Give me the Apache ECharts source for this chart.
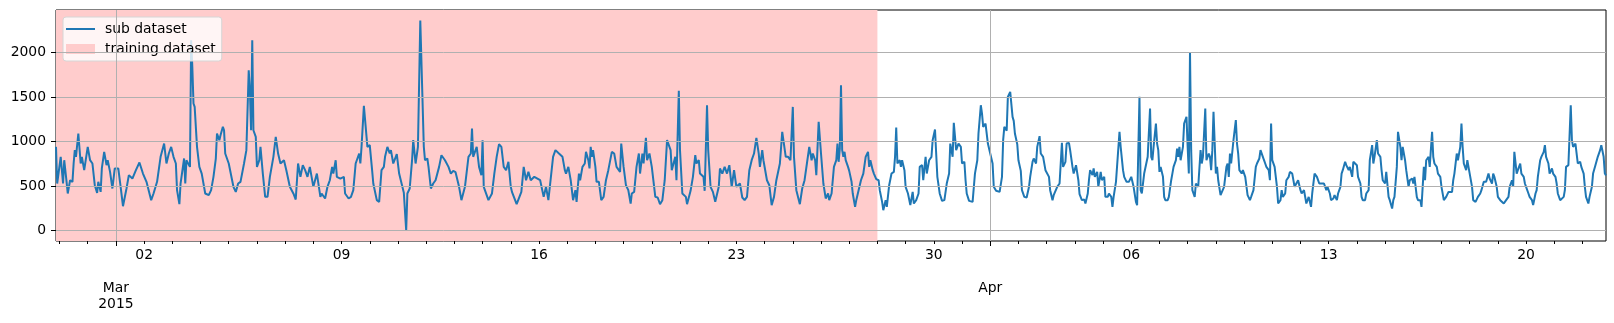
<!DOCTYPE html>
<html>
<head>
<meta charset="utf-8">
<script src="https://cdn.jsdelivr.net/npm/echarts@6/dist/echarts.min.js"></script>
<style>
  html, body { margin: 0; padding: 0; background: #fff; }
  #chart { width: 1614px; height: 323px; }
</style>
</head>
<body>
<div id="chart"></div>
<script>
// hourly series, x = hours counted from 2015-02-26 21:00 (UTC)
const startTime = Date.UTC(2015, 1, 26, 21)
const lastHour = 1319
const trainEnd = 699 // 2015-03-28 00:00

const hourIdx = [
  0, 1, 4, 6, 7, 9, 10, 12, 14, 15, 16, 17, 19, 21, 22, 24, 27, 29, 31, 33, 35, 36, 38, 39, 41, 43, 44, 46, 48, 50,
  53, 55, 57, 60, 62, 65, 68, 71, 74, 77, 81, 83, 86, 89, 92, 93, 94, 96, 98, 100, 102, 103, 105, 106, 109, 110, 111, 114, 115, 116,
  117, 118, 120, 122, 124, 127, 130, 132, 134, 136, 137, 139, 140, 142, 143, 144, 147, 151, 153, 155, 157, 160, 162, 164, 165, 166, 167, 168, 170, 171,
  173, 174, 176, 178, 180, 182, 185, 187, 189, 191, 194, 196, 199, 202, 204, 206, 208, 210, 212, 214, 216, 219, 222, 225,
  226, 229, 231, 233, 235, 236, 238, 239, 242, 245, 246, 249, 251, 253, 255, 258, 259, 260, 262, 263, 265, 267, 269, 270, 273, 275, 277, 279, 280, 282,
  284, 285, 287, 290, 292, 296, 298, 299, 301, 303, 304, 306, 308, 310, 313, 314, 316, 317, 319, 321, 323, 326, 328, 331, 334, 336, 338, 340, 343, 345,
  348, 351, 353, 354, 355, 358, 360, 362, 363, 364, 368, 371, 373, 375, 377, 379, 381, 383, 385, 387, 388, 392, 396, 398, 400, 402, 404, 407, 412, 415,
  417, 419, 423, 425, 428, 431, 433, 434, 436, 438, 440, 442, 443, 445,
  446, 448, 450, 451, 453, 454, 455, 456, 457, 459, 460, 462, 464, 466, 468, 470, 473, 475, 477, 480, 481, 483, 485, 487, 489, 490, 492, 494, 496, 497,
  499, 500, 502, 503, 505, 507, 510, 512, 514, 516, 518, 520, 523, 524, 527, 528, 530, 531, 533, 536, 537, 540, 542, 544, 545, 547, 548, 551, 552, 554,
  555, 557, 559, 561, 564, 565, 567, 569, 571, 573, 575, 577, 579, 582, 584, 586, 588, 590, 592, 594, 596, 598, 599, 601, 602, 605, 607, 609, 611, 613,
  616, 618, 619, 621, 623, 625, 627, 628, 630, 633, 635, 637, 639, 641, 643, 644, 646, 647, 649, 651, 653, 655, 657, 658, 660, 662, 664, 665,
  666, 667, 668, 669, 670, 671, 672, 674, 675, 677, 678, 680, 681, 683, 685, 687, 688, 689, 691, 692, 693, 695, 696, 698, 700, 701, 703, 704, 706, 707,
  709, 711, 713, 714, 715, 716, 718, 719, 720, 722, 723, 725, 727, 729, 730, 732, 734, 735, 737, 738, 740, 741, 743, 745, 746, 748, 749, 750, 752, 754,
  756, 758, 760, 761, 763, 764, 766, 768, 770, 771, 773, 774, 775, 777, 780, 782, 784, 785, 787, 788, 789, 791, 793, 795, 797, 798, 800, 801, 803, 805,
  806, 807, 809, 810, 811, 812, 814, 815, 816, 818, 819, 821, 822, 824, 826, 828, 829, 831, 832, 834, 835, 837, 838, 840, 842, 843, 845, 846, 848, 849,
  850, 852, 854, 856, 857, 859, 860, 862, 863, 865, 866, 868, 870, 871, 873, 875, 876, 878, 879, 880, 882, 883, 884, 886, 887,
  889, 890, 892, 893, 895, 896, 898, 899, 900, 902, 903, 905, 906, 908, 909, 911, 913, 915, 916, 917, 919, 920, 922, 923, 924, 926, 927, 929, 930, 931,
  932, 933, 934, 936, 937, 938, 939, 940, 942, 943, 944, 946, 947, 949, 950, 951, 953, 954, 955, 956, 957, 958, 959, 960, 962, 963, 964, 965, 966, 967,
  969, 970, 972, 974, 975, 976, 978, 979, 981, 982, 983, 984, 985, 987, 988, 989, 991, 992, 994, 996, 997, 998, 999, 1000, 1002, 1004, 1005, 1006, 1007, 1009,
  1010, 1012, 1014, 1016, 1017, 1019, 1021, 1022, 1024, 1025, 1027, 1028, 1029, 1030, 1032, 1033, 1034, 1035, 1037, 1039, 1040, 1042, 1043, 1044, 1046, 1047, 1049, 1050, 1052, 1054,
  1055, 1057, 1059, 1060, 1062, 1064, 1066, 1068, 1069, 1071, 1073, 1075, 1077, 1079, 1081, 1082, 1084, 1085, 1087, 1088, 1090, 1091, 1093, 1094, 1095, 1097, 1098, 1100, 1101, 1103,
  1104, 1105, 1107, 1108,
  1110, 1111, 1112, 1114, 1115, 1117, 1118, 1120, 1121, 1122, 1124, 1125, 1127, 1128, 1129, 1131, 1132, 1134, 1135, 1137, 1138, 1139, 1141, 1142, 1144, 1145, 1146, 1148, 1149, 1151,
  1152, 1154, 1155, 1156, 1158, 1159, 1161, 1162, 1164, 1165, 1166, 1168, 1169, 1171, 1172, 1173, 1175, 1176, 1178, 1179, 1181, 1182, 1183, 1185, 1186, 1188, 1189, 1190, 1192, 1193,
  1195, 1196, 1197, 1198, 1200, 1201, 1203, 1205, 1206, 1208, 1209, 1210, 1212, 1213, 1215, 1216, 1217, 1219, 1220, 1222, 1223, 1224, 1226, 1227, 1229, 1230, 1232, 1233, 1234, 1236,
  1237, 1239, 1240, 1241, 1243, 1244, 1246, 1247, 1249, 1250, 1251, 1253, 1254, 1256, 1257, 1259, 1260, 1261, 1263, 1264, 1266, 1267, 1268, 1270, 1271, 1273, 1274, 1276, 1277, 1278,
  1280, 1281, 1283, 1284, 1285, 1287, 1288, 1289, 1290, 1291, 1293, 1294, 1295, 1297, 1298, 1300, 1301, 1302, 1304, 1305, 1307, 1308, 1310, 1311, 1312, 1314, 1315, 1317, 1318, 1319
]

const visits = [
  940, 528, 828, 528, 790, 547, 416, 565, 547, 753, 903, 828, 1090, 753, 828, 678, 940, 790, 753, 509, 423, 547, 434, 697, 884, 734, 790, 659, 472, 697,
  697, 491, 273, 472, 622, 584, 678, 764, 640, 547, 341, 416, 547, 828, 977, 959, 753, 865, 940, 828, 753, 453, 296, 528, 809, 528, 790, 715, 2138, 1839,
  1427, 1389, 940, 715, 640, 416, 397, 453, 603, 809, 1090, 1015, 1071, 1165, 1127, 865, 753, 491, 434, 528, 547, 753, 903, 1801, 1577, 1127, 2138, 1127, 1052, 715,
  790, 940, 640, 378, 378, 603, 828, 1052, 865, 753, 790, 678, 491, 416, 348, 753, 603, 734, 678, 603, 715, 491, 640, 378,
  416, 360, 491, 565, 715, 640, 790, 603, 584, 603, 416, 360, 378, 453, 753, 865, 753, 940, 1401, 1389, 940, 959, 678, 528, 341, 322, 678, 715, 828, 940,
  865, 903, 753, 858, 640, 423, 0, 416, 472, 790, 1015, 753, 940, 2360, 940, 790, 809, 715, 472, 528, 565, 715, 846, 790, 715, 640, 670, 655, 491, 341,
  491, 828, 865, 1146, 828, 940, 715, 622, 1015, 491, 341, 416, 640, 828, 970, 940, 715, 678, 772, 491, 434, 296, 434, 715, 565, 659, 565, 603, 565, 378,
  491, 341, 828, 903, 865, 828, 678, 640, 715, 565, 341, 453, 322, 640,
  565, 715, 753, 884, 790, 697, 940, 828, 903, 715, 547, 547, 341, 378, 565, 678, 884, 865, 715, 659, 977, 715, 509, 453, 303, 416, 434, 715, 865, 640,
  865, 753, 1041, 790, 865, 715, 378, 371, 296, 341, 565, 1015, 903, 678, 828, 565, 1569, 903, 416, 378, 296, 446, 603, 846, 753, 790, 640, 603, 446, 1408,
  903, 491, 434, 322, 491, 697, 640, 715, 640, 734, 491, 678, 491, 528, 371, 341, 378, 678, 790, 865, 1041, 865, 715, 903, 790, 565, 509, 285, 378, 565,
  753, 1109, 1090, 828, 828, 790, 1389, 828, 453, 296, 472, 565, 753, 940, 790, 865, 790, 622, 1221, 865, 528, 360, 416, 341, 416, 715, 790, 977,
  772, 921, 1633, 903, 828, 884, 790, 715, 670, 547, 416, 266, 341, 453, 565, 640, 659, 828, 884, 715, 790, 678, 640, 577, 565, 453, 322, 228, 341, 266,
  509, 640, 659, 828, 1157, 753, 790, 715, 790, 678, 491, 416, 285, 434, 303, 341, 416, 715, 734, 565, 828, 640, 790, 828, 1015, 1135, 865, 603, 416, 333,
  341, 528, 640, 977, 828, 1210, 903, 977, 940, 753, 772, 565, 416, 333, 322, 640, 790, 1090, 1408, 1314, 1165, 1202, 977, 865, 753, 491, 446, 453, 434, 603,
  1015, 1165, 1120, 1502, 1494, 1558, 1277, 1232, 1090, 970, 790, 670, 453, 378, 371, 491, 603, 772, 809, 753, 940, 1060, 865, 828, 678, 697, 603, 453, 341, 397,
  378, 491, 528, 985, 715, 772, 977, 985, 903, 715, 640, 734, 565, 408, 341, 348, 303, 416, 565, 678, 622, 697, 603, 659, 491,
  659, 565, 603, 378, 378, 416, 378, 266, 378, 547, 565, 1109, 940, 678, 603, 547, 547, 603, 584, 491, 322, 285, 1502, 453, 416, 640, 659, 828, 828, 1371,
  828, 790, 940, 1202, 977, 903, 659, 715, 603, 378, 341, 341, 378, 565, 640, 715, 790, 921, 828, 940, 790, 790, 940, 1202, 1277, 940, 640, 2007, 903, 453,
  378, 528, 491, 903, 753, 828, 1371, 790, 865, 828, 678, 903, 1333, 640, 715, 565, 397, 397, 491, 715, 753, 603, 865, 753, 1015, 1240, 977, 865, 678, 640,
  678, 603, 397, 341, 378, 453, 715, 753, 809, 903, 828, 790, 753, 715, 678, 565, 1202, 790, 715, 491, 303, 341, 453, 378, 416, 565, 603, 659, 640, 491,
  491, 565, 453, 416, 453, 303, 378, 266, 416, 640, 603, 528, 528, 528, 453, 491, 416, 341, 360, 397, 341, 416, 491, 640, 678, 772, 734, 678, 715, 603,
  772, 753, 734, 603,
  528, 378, 341, 341, 416, 453, 790, 959, 753, 828, 1015, 865, 828, 678, 565, 528, 659, 378, 341, 247, 341, 378, 715, 1109, 940, 790, 940, 790, 678, 491,
  565, 584, 528, 603, 378, 341, 341, 266, 715, 565, 790, 828, 715, 1109, 828, 753, 715, 640, 603, 491, 341, 341, 378, 434, 416, 434, 565, 640, 865, 790,
  940, 1202, 940, 753, 678, 790, 640, 491, 341, 322, 341, 378, 416, 453, 547, 547, 547, 640, 584, 528, 640, 603, 491, 378, 341, 360, 303, 303, 341, 378,
  491, 565, 491, 884, 640, 678, 753, 640, 603, 528, 491, 416, 378, 341, 285, 416, 453, 603, 790, 828, 884, 959, 828, 753, 640, 697, 640, 603, 528, 416,
  341, 341, 378, 453, 715, 734, 753, 1408, 1015, 940, 977, 865, 753, 772, 715, 640, 491, 378, 303, 378, 491, 640, 734, 715, 828, 903, 959, 828, 640, 620
]

// tick positions and labels (hours from start)
const yTicks = [0, 500, 1000, 1500, 2000]
const mondayTicks = [75, 243, 411, 579, 747, 915, 1083, 1251] // Mar 02, 09, 16, 23, 30, Apr 06, 13, 20
const monthTicks = [51, 795] // Mar 1, Apr 1
const monthLabels = ['Mar\n2015', 'Apr']

const dayTicks = []
for (let h = 3; h <= lastHour; h += 24) {
  dayTicks.push(h)
}

// legend handles: 29px wide mark, blank corner dots keep a 34x10 box so the text sits 10px away
const lineIcon = 'path://M0,4h29v2h-29z M0,0h0.01v0.01h-0.01z M33.99,9.99h0.01v0.01h-0.01z'
const patchIcon = 'path://M0,0h29v10h-29z M33.99,9.99h0.01v0.01h-0.01z'

const font = 'DejaVu Sans'
const fontSize = 13.9
const chart = echarts.init(document.getElementById('chart'))

const option = {
  animation: false,
  grid: {
    left: 56,
    right: 8,
    top: 10,
    bottom: 82,
    show: true,
    borderColor: '#000',
    borderWidth: 1,
    backgroundColor: 'transparent',
  },
  legend: {
    orient: 'vertical',
    left: 63,
    top: 17,
    padding: [5, 6, 5, 3],
    itemWidth: 34,
    itemHeight: 10,
    itemGap: 6,
    selectedMode: false,
    backgroundColor: 'rgba(255,255,255,0.8)',
    borderColor: '#d6d6d6',
    borderWidth: 1,
    borderRadius: 3,
    textStyle: { fontFamily: font, fontSize: fontSize, color: '#000' },
    data: [
      { name: 'sub dataset', icon: lineIcon },
      { name: 'training dataset', icon: patchIcon },
    ],
  },
  xAxis: [
    {
      type: 'value',
      min: 0,
      max: lastHour,
      position: 'bottom',
      axisLine: { show: false, onZero: false },
      splitLine: { show: false },
      axisTick: { customValues: dayTicks, length: 3, lineStyle: { color: '#000', width: 1 } },
      axisLabel: {
        customValues: mondayTicks,
        margin: 7,
        fontFamily: font,
        fontSize: fontSize,
        color: '#000',
        formatter: (v) => String(new Date(startTime + v * 3600e3).getUTCDate()).padStart(2, '0'),
      },
    },
    {
      type: 'value',
      min: 0,
      max: lastHour,
      position: 'bottom',
      axisLine: { show: false, onZero: false },
      splitLine: { show: false },
      axisTick: { customValues: monthTicks, length: 5, lineStyle: { color: '#000', width: 1 } },
      axisLabel: {
        customValues: monthTicks,
        margin: 39,
        fontFamily: font,
        fontSize: fontSize,
        lineHeight: 16,
        color: '#000',
        formatter: (v) => monthLabels[monthTicks.indexOf(Math.round(v))],
      },
    },
  ],
  yAxis: {
    type: 'value',
    min: -118,
    max: 2478,
    axisLine: { show: false, onZero: false },
    splitLine: { show: false },
    axisTick: { customValues: yTicks, length: 5, lineStyle: { color: '#000', width: 1 } },
    axisLabel: {
      customValues: yTicks,
      margin: 10,
      fontFamily: font,
      fontSize: fontSize,
      color: '#000',
      formatter: (v) => String(v),
    },
  },
  series: [
    {
      name: 'training dataset',
      type: 'line',
      data: [],
      z: 1,
      itemStyle: { color: '#ffcccc' },
      lineStyle: { color: '#ffcccc' },
      markArea: {
        silent: true,
        itemStyle: { color: '#ffcccc', opacity: 1 },
        data: [[{ xAxis: 0 }, { xAxis: trainEnd }]],
      },
    },
    {
      name: 'grid',
      type: 'line',
      data: [],
      z: 2,
      markLine: {
        silent: true,
        symbol: ['none', 'none'],
        label: { show: false },
        lineStyle: { color: '#b0b0b0', width: 1, type: 'solid' },
        data: yTicks.map((v) => ({ yAxis: v })).concat(monthTicks.map((v) => ({ xAxis: v }))),
      },
    },
    {
      name: 'sub dataset',
      type: 'line',
      data: hourIdx.map((h, i) => [h, visits[i]]),
      z: 3,
      symbol: 'none',
      showSymbol: false,
      sampling: null,
      itemStyle: { color: '#1f77b4' },
      lineStyle: { color: '#1f77b4', width: 2 },
    },
  ],
}

chart.setOption(option)
</script>
</body>
</html>
